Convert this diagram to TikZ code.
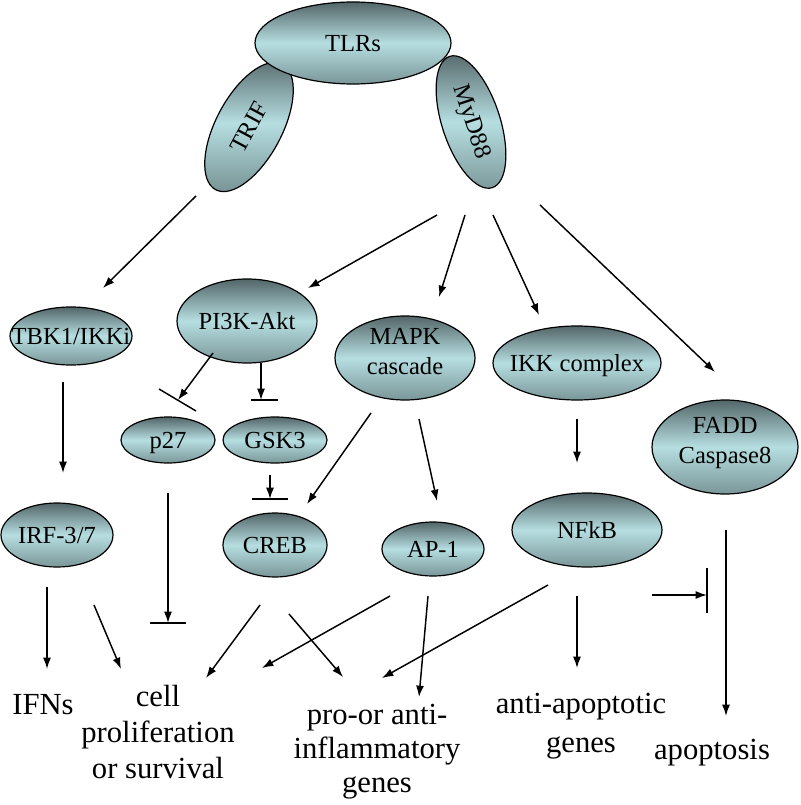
\documentclass[tikz,border=0pt]{standalone}
\usepackage{fontspec}
\setmainfont{Liberation Serif}
\usetikzlibrary{shapes.geometric,arrows.meta}
\definecolor{shtop}{HTML}{536668}
\definecolor{shmid}{HTML}{B6DEE1}
\definecolor{shbot}{HTML}{7A9698}
\newcommand\zt[2][-0.33em]{\makebox[0pt]{\raisebox{#1}[0pt][0pt]{#2}}}
\newcommand\zz[1]{\zt[-0.05em]{\begin{tabular}{@{}c@{}}#1\end{tabular}}}
\tikzset{
  blob/.style={ellipse, draw=black, line width=0.9pt, inner sep=0pt,
    top color=shtop, bottom color=shbot, middle color=shmid,
    font=\fontsize{18.4}{22}\selectfont},
  arr/.style={line width=1.1pt, -{Latex[length=8.5pt,width=6pt]}},
  barline/.style={line width=1.1pt},
  lbl/.style={inner sep=0pt, align=center, font=\fontsize{23}{27}\selectfont}
}
\begin{document}
\begin{tikzpicture}[x=0.75pt,y=-0.75pt]
\useasboundingbox (0,0) rectangle (800,805);
% nodes
\node[blob, rotate=62, minimum width=142*0.75pt, minimum height=66*0.75pt] (trif) at (249,127) {TRIF};
\node[blob, minimum width=196*0.75pt, minimum height=82*0.75pt] (tlrs) at (353,43) {\zt{TLRs}};
\node[blob, rotate=-72, minimum width=138*0.75pt, minimum height=58*0.75pt] (myd) at (471,122) {MyD88};
\node[blob, minimum width=122*0.75pt, minimum height=58*0.75pt] (tbk) at (71,336) {\zt{TBK1/IKKi}};
\node[blob, minimum width=140*0.75pt, minimum height=84*0.75pt] (pi3k) at (247,321) {\zt{PI3K-Akt}};
\node[blob, minimum width=140*0.75pt, minimum height=84*0.75pt] (mapk) at (405,358) {\zz{MAPK\\cascade}};
\node[blob, minimum width=168*0.75pt, minimum height=74*0.75pt] (ikk) at (577,363) {\zt{IKK complex}};
\node[blob, minimum width=146*0.75pt, minimum height=94*0.75pt] (fadd) at (725,447) {\zz{FADD\\Caspase8}};
\node[blob, minimum width=94*0.75pt, minimum height=46*0.75pt] (p27) at (168,440) {\zt{p27}};
\node[blob, minimum width=104*0.75pt, minimum height=46*0.75pt] (gsk) at (275,440) {\zt{GSK3}};
\node[blob, minimum width=104*0.75pt, minimum height=64*0.75pt] (creb) at (275,545) {\zt{CREB}};
\node[blob, minimum width=112*0.75pt, minimum height=64*0.75pt] (irf) at (57,535) {\zt{IRF-3/7}};
\node[blob, minimum width=102*0.75pt, minimum height=54*0.75pt] (ap1) at (433,549) {\zt{AP-1}};
\node[blob, minimum width=150*0.75pt, minimum height=74*0.75pt] (nfkb) at (587,530) {\zt{NFkB}};
% outcome labels
\node[lbl] (ifns) at (43,705) {IFNs};
\node[lbl] (cell) at (158,732) {cell\\proliferation\\or survival};
\node[lbl, font=\fontsize{23}{25.5}\selectfont] (infl) at (377,752) {pro-or anti-\\inflammatory\\genes};
\node[lbl, font=\fontsize{23}{29}\selectfont] (anti) at (581,726) {anti-apoptotic\\genes};
\node[lbl] (apop) at (712,753) {apoptosis};
% connector end points
\coordinate (trif-o) at (196,196); \coordinate (tbk-i) at (103,288);
\coordinate (myd-o1) at (437,215); \coordinate (pi3k-i) at (308,288);
\coordinate (myd-o2) at (465,215); \coordinate (mapk-i) at (439,297);
\coordinate (myd-o3) at (493,215); \coordinate (ikk-i) at (539,315);
\coordinate (myd-o4) at (540,205); \coordinate (fadd-i) at (715,372);
\coordinate (tbk-o) at (63,382); \coordinate (irf-i) at (63,473);
\coordinate (pi3k-o1) at (213,353); \coordinate (p27-i) at (178,400);
\coordinate (p27-b1) at (159,389); \coordinate (p27-b2) at (196,411);
\coordinate (pi3k-o2) at (261,363); \coordinate (gsk-i) at (261,400);
\coordinate (gsk-b1) at (251,400); \coordinate (gsk-b2) at (278,400);
\coordinate (gsk-o) at (270,475); \coordinate (creb-i1) at (270,499);
\coordinate (creb-b1) at (252,499); \coordinate (creb-b2) at (288,499);
\coordinate (mapk-o1) at (371,413); \coordinate (creb-i2) at (307,504);
\coordinate (mapk-o2) at (419,419); \coordinate (ap1-i) at (437,501);
\coordinate (ikk-o) at (577,419); \coordinate (nfkb-i) at (577,463);
\coordinate (p27-o) at (168,493); \coordinate (cell-i0) at (168,623);
\coordinate (cell-b1) at (150,623); \coordinate (cell-b2) at (186,623);
\coordinate (irf-o1) at (47,587); \coordinate (ifns-i) at (47,669);
\coordinate (irf-o2) at (94,605); \coordinate (cell-i1) at (121,669);
\coordinate (creb-o1) at (260,605); \coordinate (cell-i2) at (206,678);
\coordinate (creb-o2) at (289,614); \coordinate (infl-i1) at (343,677);
\coordinate (ap1-o1) at (390,596); \coordinate (cell-i3) at (262,668);
\coordinate (ap1-o2) at (428,596); \coordinate (infl-i2) at (419,697);
\coordinate (nfkb-o1) at (548,585); \coordinate (infl-i3) at (382,678);
\coordinate (nfkb-o2) at (577,596); \coordinate (anti-i) at (577,668);
\coordinate (nfkb-o3) at (652,595); \coordinate (apop-bar) at (707,595);
\coordinate (apop-b1) at (707,568); \coordinate (apop-b2) at (707,613);
\coordinate (fadd-o) at (726,530); \coordinate (apop-i) at (726,716);
% connectors
\draw[arr] (trif-o) -- (tbk-i);
\draw[arr] (myd-o1) -- (pi3k-i);
\draw[arr] (myd-o2) -- (mapk-i);
\draw[arr] (myd-o3) -- (ikk-i);
\draw[arr] (myd-o4) -- (fadd-i);
\draw[arr] (tbk-o) -- (irf-i);
\draw[arr] (pi3k-o1) -- (p27-i);
\draw[barline] (p27-b1) -- (p27-b2);
\draw[arr] (pi3k-o2) -- (gsk-i);
\draw[barline] (gsk-b1) -- (gsk-b2);
\draw[arr] (gsk-o) -- (creb-i1);
\draw[barline] (creb-b1) -- (creb-b2);
\draw[arr] (mapk-o1) -- (creb-i2);
\draw[arr] (mapk-o2) -- (ap1-i);
\draw[arr] (ikk-o) -- (nfkb-i);
\draw[arr] (p27-o) -- (cell-i0);
\draw[barline] (cell-b1) -- (cell-b2);
\draw[arr] (irf-o1) -- (ifns-i);
\draw[arr] (irf-o2) -- (cell-i1);
\draw[arr] (creb-o1) -- (cell-i2);
\draw[arr] (creb-o2) -- (infl-i1);
\draw[arr] (ap1-o1) -- (cell-i3);
\draw[arr] (ap1-o2) -- (infl-i2);
\draw[arr] (nfkb-o1) -- (infl-i3);
\draw[arr] (nfkb-o2) -- (anti-i);
\draw[arr] (nfkb-o3) -- (apop-bar);
\draw[barline] (apop-b1) -- (apop-b2);
\draw[arr] (fadd-o) -- (apop-i);
\end{tikzpicture}
\end{document}
